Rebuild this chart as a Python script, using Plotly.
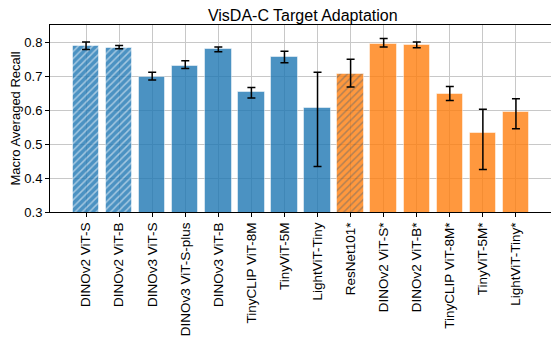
import plotly.graph_objects as go

models = [
    "DINOv2 ViT-S", "DINOv2 ViT-B", "DINOv3 ViT-S", "DINOv3 ViT-S-plus",
    "DINOv3 ViT-B", "TinyCLIP ViT-8M", "TinyViT-5M", "LightViT-Tiny",
    "ResNet101*", "DINOv2 ViT-S*", "DINOv2 ViT-B*", "TinyCLIP ViT-8M*",
    "TinyViT-5M*", "LightViT-Tiny*",
]
recall = [0.787, 0.782, 0.698, 0.729, 0.778, 0.652, 0.756, 0.606,
          0.705, 0.795, 0.790, 0.647, 0.532, 0.594]
recall_hi = [0.800, 0.790, 0.711, 0.745, 0.785, 0.666, 0.773, 0.711,
             0.749, 0.810, 0.800, 0.669, 0.602, 0.633]
recall_lo = [0.778, 0.780, 0.688, 0.722, 0.771, 0.635, 0.739, 0.434,
             0.668, 0.785, 0.783, 0.628, 0.425, 0.545]
group = ["src"] * 8 + ["tgt"] * 6
hatched = [True, True, False, False, False, False, False, False,
           True, False, False, False, False, False]

colour_map = {"src": "#1f77b4", "tgt": "#ff7f0e"}
colours = [colour_map[g] for g in group]
err_plus = [max(h - v, 0) for h, v in zip(recall_hi, recall)]
err_minus = [max(v - l, 0) for v, l in zip(recall, recall_lo)]

fig = go.Figure(go.Bar(
    x=models, y=recall,
    width=0.8,
    marker=dict(
        color=colours,
        opacity=0.8,
        line=dict(color="rgba(255,255,255,0.5)", width=1),
        pattern=dict(
            shape=["/" if h else "" for h in hatched],
            fgcolor="white", size=5, solidity=0.3,
        ),
    ),
    error_y=dict(type="data", symmetric=False, array=err_plus, arrayminus=err_minus,
                 color="black", thickness=1.5, width=4),
    showlegend=False,
))

axis_common = dict(
    showline=True, linecolor="black", linewidth=1, mirror=True,
    showgrid=True, gridcolor="#c8c8c8", gridwidth=1,
    ticks="outside", ticklen=4, tickcolor="black",
    automargin=False,
)
fig.update_xaxes(**axis_common, tickangle=-90, range=[-1.09, 14.09],
                 tickfont=dict(size=13.5, color="black"))
fig.update_yaxes(**axis_common, range=[0.3, 0.85], dtick=0.1, tickformat=".1f",
                 tickfont=dict(size=13, color="black"),
                 title=dict(text="Macro Averaged Recall", font=dict(size=13, color="black"),
                            standoff=4))
# page body keeps an 8px margin, so the figure is sized to fill the window
fig.update_layout(
    title=dict(text="VisDA-C Target Adaptation", x=0.535, xanchor="center",
               y=0.978, yanchor="middle", font=dict(size=16, color="black")),
    font=dict(family="Liberation Sans, Arial, sans-serif"),
    width=551, height=336,
    margin=dict(l=42, r=7, t=17, b=132),
    plot_bgcolor="white", paper_bgcolor="white",
    bargap=0,
)
fig.write_html("out.html")
